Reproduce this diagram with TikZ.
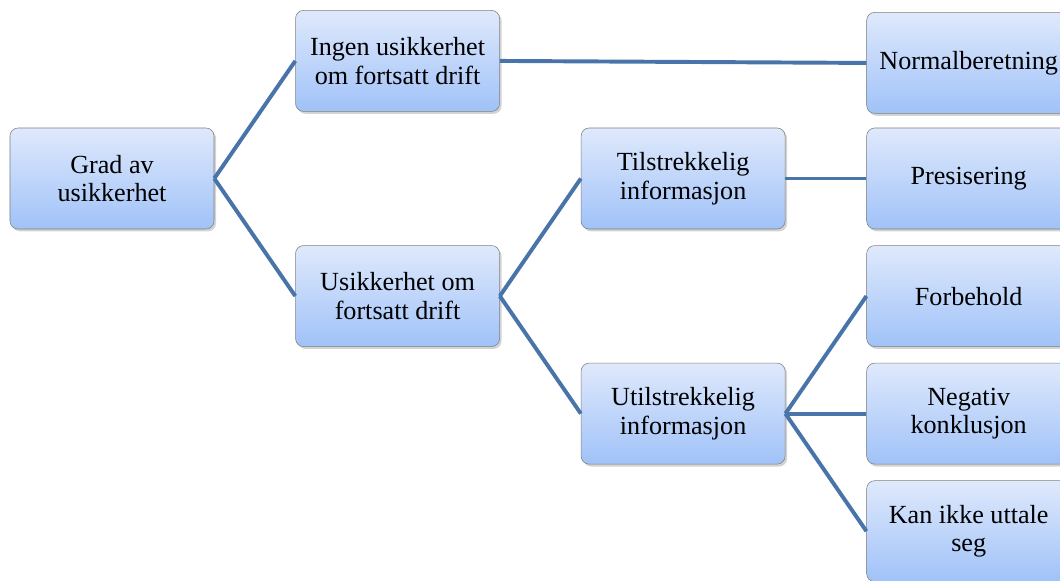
\documentclass[tikz,border=0pt]{standalone}
\usepackage{fontspec}
\setmainfont{Liberation Serif}
\usetikzlibrary{positioning,shadows}

\definecolor{boxtop}{RGB}{223,233,252}
\definecolor{boxbottom}{RGB}{160,194,248}
\definecolor{boxline}{RGB}{128,128,128}
\definecolor{linkblue}{RGB}{72,116,170}

\begin{document}
\begin{tikzpicture}[node distance=0.4cm and 2.025cm,
		box/.style={rectangle,rounded corners=0.2cm,draw=boxline,thin,
			top color=boxtop,bottom color=boxbottom,
			drop shadow={shadow xshift=0.05cm,shadow yshift=-0.06cm,opacity=0.35},
			minimum width=5.1cm,minimum height=2.525cm,align=center,
			font=\fontsize{18.6}{20.5}\selectfont},
		link/.style={draw=linkblue,line width=2.8pt}]
		
		\useasboundingbox (-2.8,-10.0625) rectangle (23.7,4.4625);
		
		\node[box] (grad)                          {Grad av\\usikkerhet};
		\node[box] (ingen)  [above right=of grad]  {Ingen usikkerhet\\om fortsatt drift};
		\node[box] (usikk)  [below right=of grad]  {Usikkerhet om\\fortsatt drift};
		\node[box] (tilstr) [above right=of usikk] {Tilstrekkelig\\informasjon};
		\node[box] (utilstr)[below right=of usikk] {Utilstrekkelig\\informasjon};
		\node[box] (pres)   [right=of tilstr]      {Presisering};
		\node[box] (normal) [above=0.35cm of pres] {Normalberetning};
		\node[box] (forb)   [below=of pres]        {Forbehold};
		\node[box] (neg)    [below=of forb]        {Negativ\\konklusjon};
		\node[box] (kan)    [below=of neg]         {Kan ikke uttale\\seg};
		
		\path[link]
		(grad.east)    edge (ingen.west)
		               edge (usikk.west)
		(ingen.east)   edge (normal.west)
		(usikk.east)   edge (tilstr.west)
		               edge (utilstr.west)
		(tilstr.east)  edge (pres.west)
		(utilstr.east) edge (forb.west)
		               edge (neg.west)
		               edge (kan.west)
		;
	\end{tikzpicture}
\end{document}
